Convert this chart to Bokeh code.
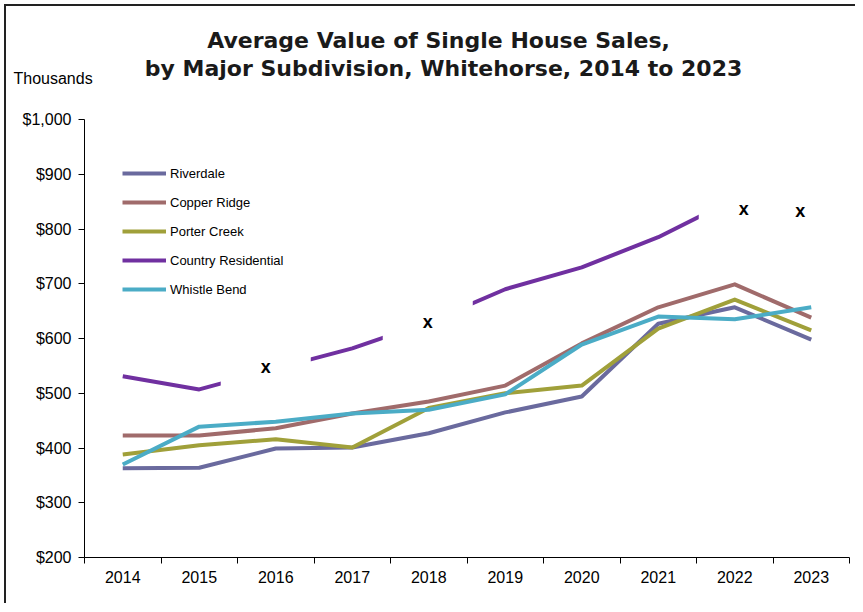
from bokeh.plotting import figure
from bokeh.models import (Range1d, FixedTicker, NumeralTickFormatter, Legend,
                          LegendItem, ColumnDataSource)
from bokeh.embed import file_html
from bokeh.resources import INLINE
from bokeh.core.properties import value

years = [2014, 2015, 2016, 2017, 2018, 2019, 2020, 2021, 2022, 2023]
riverdale = [363, 364, 399, 401, 427, 465, 494, 627, 657, 598]
copper_ridge = [423, 423, 436, 463, 485, 514, 591, 657, 699, 638]
porter_creek = [388, 405, 416, 401, 473, 500, 514, 618, 671, 615]
country_residential = [531, 507, 545, 582, 630, 690, 730, 785, 855, 832]
whistle_bend = [370, 439, 448, 463, 470, 498, 589, 640, 635, 657]
suppressed_years = [2016, 2018, 2022, 2023]
y_ticks = [200, 300, 400, 500, 600, 700, 800, 900, 1000]

title_lines = ["Average Value of Single House Sales,",
               "by Major Subdivision, Whitehorse, 2014 to 2023"]
unit_label = "Thousands"

series = [
    ("Riverdale", riverdale, "#6a6a9e"),
    ("Copper Ridge", copper_ridge, "#a06b6b"),
    ("Porter Creek", porter_creek, "#a0a03a"),
    ("Country Residential", country_residential, "#7030a0"),
    ("Whistle Bend", whistle_bend, "#4bacc6"),
]

FONT = "Liberation Sans"
TITLE_FONT = "DejaVu Sans"
W = 851
TOP_H = 103

# ---- header strip (title + unit label), pixel-mapped ranges ----
head = figure(width=W, height=TOP_H, output_backend="svg", toolbar_location=None,
              x_range=Range1d(0, W), y_range=Range1d(TOP_H, 0),
              x_axis_type=None, y_axis_type=None, min_border=0,
              min_border_left=0, min_border_right=0, min_border_top=0,
              min_border_bottom=0,
              styles={"margin-left": "4px", "margin-top": "4px",
                      "border-left": "2px solid #222",
                      "border-top": "2px solid #222"})
head.outline_line_color = None
head.grid.visible = False
head.text(x=[432, 437], y=[34, 62], text=title_lines,
          text_font=value(TITLE_FONT), text_font_style="bold",
          text_font_size="22px", text_color="#1a1a1a",
          text_align="center", text_baseline="middle")
head.text(x=[7], y=[72], text=[unit_label], text_font=value(FONT),
          text_font_size="16px", text_color="black",
          text_align="left", text_baseline="middle")

# ---- main chart ----
p = figure(width=W, height=496, output_backend="svg", toolbar_location=None,
           x_range=Range1d(2013.5, 2023.5), y_range=Range1d(200, 1000),
           min_border_left=78, min_border_top=12, min_border_right=8,
           min_border_bottom=46,
           styles={"margin-left": "4px", "border-left": "2px solid #222"})
p.outline_line_color = None
p.xgrid.grid_line_color = None
p.ygrid.grid_line_color = None

renderers = []
for name, vals, color in series:
    r = p.line(years, vals, line_color=color, line_width=4, line_join="round")
    renderers.append((name, r))

# suppressed-value labels ("x") with white boxes hiding the line
idx = [years.index(y) for y in suppressed_years]
lab_src = ColumnDataSource(dict(
    x=suppressed_years,
    y=[country_residential[i] for i in idx],
    t=["x"] * len(suppressed_years),
    dx=[-10, -1, 9, -11],
    dy=[-2, 0, 10, 0],
))
p.text(x="x", y="y", text="t", source=lab_src, x_offset="dx", y_offset="dy",
       text_font=value(FONT), text_font_style="bold", text_font_size="18px",
       text_color="black", text_align="center", text_baseline="middle",
       background_fill_color="white",
       padding=dict(left=40, right=40, top=14, bottom=14))

# axes
p.xaxis.ticker = FixedTicker(ticks=years,
                             minor_ticks=[y - 0.5 for y in years] + [2023.5])
p.xaxis.major_tick_out = 0
p.xaxis.major_tick_in = 0
p.xaxis.minor_tick_out = 6
p.xaxis.minor_tick_in = 0
p.xaxis.minor_tick_line_color = "black"
p.xaxis.axis_line_color = "black"
p.xaxis.major_label_standoff = 7

p.yaxis.ticker = FixedTicker(ticks=y_ticks)
p.yaxis.formatter = NumeralTickFormatter(format="$0,0")
p.yaxis.major_tick_out = 6
p.yaxis.major_tick_in = 0
p.yaxis.minor_tick_line_color = None
p.yaxis.axis_line_color = "black"
p.yaxis.major_label_standoff = 7

for ax in (p.xaxis, p.yaxis):
    ax.major_label_text_font = FONT
    ax.major_label_text_font_size = "16px"
    ax.major_label_text_color = "black"

legend = Legend(items=[LegendItem(label=n, renderers=[r]) for n, r in renderers],
                location=(38, 258), border_line_color=None,
                background_fill_alpha=0, glyph_width=44, glyph_height=20,
                label_height=20, spacing=9, label_standoff=4, padding=0,
                margin=0, label_text_font=FONT, label_text_font_size="13px",
                label_text_color="black")
p.add_layout(legend)

open("out.html", "w").write(file_html([head, p], INLINE))
